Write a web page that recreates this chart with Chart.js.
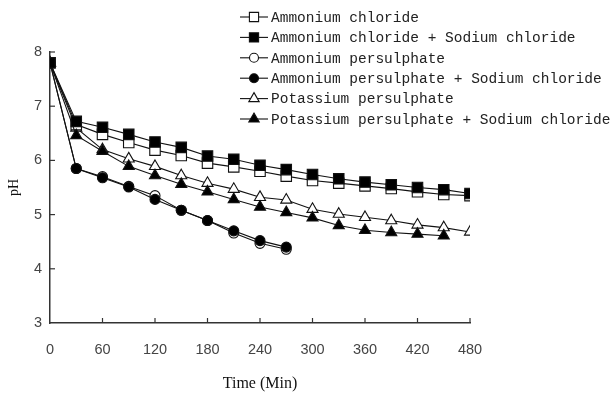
<!DOCTYPE html>
<html><head><meta charset="utf-8">
<script src="https://cdn.jsdelivr.net/npm/chart.js@4/dist/chart.umd.min.js"></script>
<style>html,body{margin:0;padding:0;background:#fff}#wrap{width:616px;height:400px}</style>
</head><body><div id="wrap"><canvas id="c" width="616" height="400"></canvas></div>
<script>
const times = [0,30,60,90,120,150,180,210,240,270,300,330,360,390,420,450,480];
const seriesNames = ["Ammonium chloride","Ammonium chloride + Sodium chloride","Ammonium persulphate","Ammonium persulphate + Sodium chloride","Potassium persulphate","Potassium persulphate + Sodium chloride"];
const ammChloride = [7.8,6.66,6.48,6.33,6.19,6.09,5.95,5.88,5.8,5.71,5.63,5.58,5.53,5.48,5.42,5.37,5.35];
const ammChlorideNaCl = [7.8,6.72,6.61,6.48,6.34,6.24,6.08,6.02,5.91,5.83,5.74,5.66,5.6,5.55,5.5,5.46,5.39];
const ammPersulphate = [7.8,5.85,5.7,5.52,5.35,5.08,4.89,4.66,4.47,4.36];
const ammPersulphateNaCl = [7.8,5.85,5.68,5.51,5.28,5.08,4.89,4.7,4.52,4.4];
const potPersulphate = [7.8,6.6,6.2,6.03,5.89,5.72,5.58,5.47,5.32,5.27,5.1,5.01,4.95,4.89,4.81,4.76,4.68];
const potPersulphateNaCl = [7.8,6.46,6.17,5.89,5.72,5.56,5.42,5.28,5.14,5.04,4.94,4.8,4.71,4.67,4.64,4.61];
const xTicks = [0,60,120,180,240,300,360,420,480];
const yTicks = [3,4,5,6,7,8];

const styles = [
  {ps:'rect', r:7.4, fill:'#fff', order:3},
  {ps:'rect', r:7.4, fill:'#000', order:0},
  {ps:'circle', r:5, fill:'#fff', order:4},
  {ps:'circle', r:5, fill:'#000', order:1},
  {ps:'triangle', r:6.4, fill:'#fff', order:5},
  {ps:'triangle', r:6.4, fill:'#000', order:2}
];
const allVals = [ammChloride, ammChlorideNaCl, ammPersulphate, ammPersulphateNaCl, potPersulphate, potPersulphateNaCl];
const datasets = allVals.map((vals,i)=>({
  label: seriesNames[i],
  data: vals.map((v,j)=>({x:times[j], y:v})),
  order: styles[i].order,
  borderColor:'#111', borderWidth:1.1, tension:0,
  pointStyle: styles[i].ps, pointRadius: styles[i].r, pointHoverRadius: styles[i].r,
  pointBackgroundColor: styles[i].fill, pointBorderColor:'#111', pointBorderWidth:1.1,
  fill:false
}));

function drawMarker(ctx, ps, x, y, r, fill){
  ctx.save();
  ctx.fillStyle = fill; ctx.strokeStyle = '#111'; ctx.lineWidth = 1.1;
  ctx.beginPath();
  if (ps==='rect'){ const s=r*Math.SQRT1_2; ctx.rect(x-s,y-s,2*s,2*s); }
  else if (ps==='circle'){ ctx.arc(x,y,r,0,Math.PI*2); }
  else {
    ctx.moveTo(x, y - r);
    ctx.lineTo(x + Math.sin(2*Math.PI/3)*r, y - Math.cos(2*Math.PI/3)*r);
    ctx.lineTo(x + Math.sin(4*Math.PI/3)*r, y - Math.cos(4*Math.PI/3)*r);
    ctx.closePath(); }
  ctx.fill(); ctx.stroke(); ctx.restore();
}

const legendPlugin = {
  id:'customLegend',
  afterDraw(chart){
    const ctx = chart.ctx;
    ctx.save();
    ctx.font = '14.5px "Liberation Mono", monospace';
    ctx.textBaseline = 'middle';
    seriesNames.forEach((name,i)=>{
      const y = 17 + i*20.4;
      ctx.strokeStyle = '#111'; ctx.lineWidth = 1.1;
      ctx.beginPath(); ctx.moveTo(240,y); ctx.lineTo(268,y); ctx.stroke();
      const st = styles[i];
      drawMarker(ctx, st.ps, 254, y, st.ps==='circle'?4.5:(st.ps==='rect'?6.5:6), st.fill);
      ctx.fillStyle = '#222';
      ctx.fillText(name, 271, y+1);
    });
    ctx.restore();
  }
};

const tickMarks = {
  id:'tickMarks',
  afterDraw(chart){
    const xs = chart.scales.x, ys = chart.scales.y, ctx = chart.ctx;
    const b = chart.chartArea.bottom, l = chart.chartArea.left;
    ctx.save(); ctx.strokeStyle='#333'; ctx.lineWidth=1.2;
    xs.ticks.forEach((t,i)=>{
      if (i===0) return;
      const px = xs.getPixelForTick(i);
      ctx.beginPath(); ctx.moveTo(px,b); ctx.lineTo(px,b-5); ctx.stroke();
    });
    ys.ticks.forEach((t,i)=>{
      if (i===0) return;
      const py = ys.getPixelForTick(i);
      ctx.beginPath(); ctx.moveTo(l,py); ctx.lineTo(l+5,py); ctx.stroke();
    });
    ctx.restore();
  }
};

new Chart(document.getElementById('c'), {
  type:'line',
  data:{datasets},
  options:{
    responsive:false, animation:false, devicePixelRatio:1,
    layout:{padding:{left:0,right:146,top:52,bottom:0}},
    plugins:{legend:{display:false}, tooltip:{enabled:false}},
    scales:{
      x:{type:'linear', min:0, max:480,
        afterBuildTicks(s){ s.ticks = xTicks.map(v=>({value:v})); },
        afterFit(s){ s.height = 77; },
        grid:{display:true, drawOnChartArea:false, drawTicks:false},
        border:{color:'#333', width:1.5},
        ticks:{padding:18, color:'#444', font:{family:'"Liberation Sans",sans-serif', size:14.5}, maxRotation:0},
        title:{display:true, text:'Time (Min)', color:'#111', font:{family:'"Liberation Serif",serif', size:16}, padding:{top:0,bottom:7}}
      },
      y:{type:'linear', min:3, max:8,
        afterBuildTicks(s){ s.ticks = yTicks.map(v=>({value:v})); },
        afterFit(s){ s.width = 50; },
        grid:{display:true, drawOnChartArea:false, drawTicks:false},
        border:{color:'#333', width:1.5},
        ticks:{padding:8, color:'#444', font:{family:'"Liberation Sans",sans-serif', size:14.5}},
        title:{display:true, text:'pH', color:'#111', font:{family:'"Liberation Serif",serif', size:14}, padding:{top:6,bottom:0}}
      }
    }
  },
  plugins:[legendPlugin, tickMarks]
});
</script></body></html>
